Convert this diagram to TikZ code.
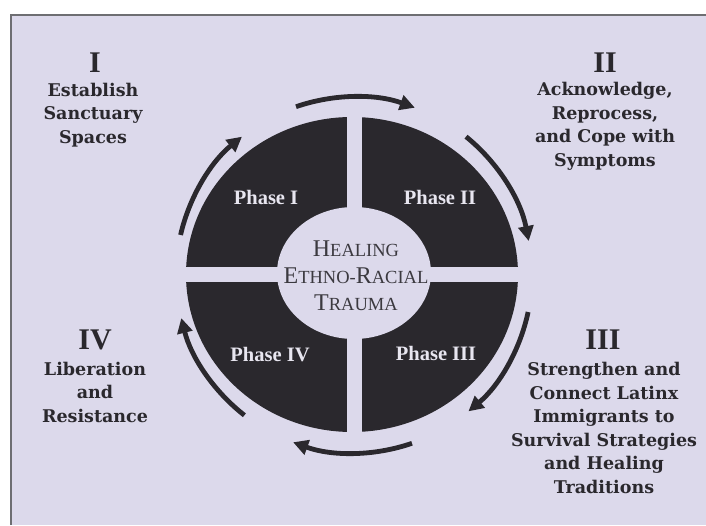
\documentclass[tikz,border=0pt]{standalone}
\usepackage{fontspec}
\setmainfont{Liberation Serif}
\newfontfamily\goalfont{DejaVu Serif}
\usetikzlibrary{arrows.meta}

\definecolor{lavender}{HTML}{DCD9EB}
\definecolor{ink}{HTML}{2A282D}
\definecolor{framegray}{HTML}{6E6E72}
\definecolor{midgray}{HTML}{3B393F}
\definecolor{pale}{HTML}{E8E6F0}

\newcommand{\capsmall}[2]{{\fontsize{24}{27}\selectfont #1}{\fontsize{18.5}{27}\selectfont #2}}

\begin{document}
\begin{tikzpicture}[x=1pt,y=1pt]

	\tikzstyle{phase} = [text=pale,font=\fontsize{20.5}{24}\selectfont\bfseries]
	\tikzstyle{numeral} = [text=ink,font=\fontsize{30}{30}\selectfont\bfseries]
	\tikzstyle{goal} = [text=ink,align=center,font=\goalfont\fontsize{17.5}{23.5}\selectfont\bfseries]
	\tikzstyle{cyclearrow} = [draw=ink,line width=4.8pt,-{Triangle[length=15pt,width=15pt]}]

	\useasboundingbox (0,0) rectangle (706,525);
	\fill[lavender] (11,0) rectangle (706,510);
	\draw[framegray,line width=1.5pt] (11,0) -- (11,510) -- (706,510);

	% ring
	\coordinate (c) at (354,250);
	\fill[ink] (352,250.5) ellipse [x radius=166, y radius=157.5];
	\fill[lavender] (354,252) ellipse [x radius=77, y radius=66];
	\fill[lavender] (347,80) rectangle (362,420);
	\fill[lavender] (170,243) rectangle (540,258);

	\node[phase] (p1) at (266,328) {Phase I};
	\node[phase] (p2) at (440,328) {Phase II};
	\node[phase] (p3) at (436,172) {Phase III};
	\node[phase] (p4) at (270,170) {Phase IV};

	\node[text=midgray,align=center,font=\fontsize{24}{27}\selectfont] (h) at (356,249)
		{\capsmall{H}{EALING}\\\capsmall{E}{THNO-}\capsmall{R}{ACIAL}\\\capsmall{T}{RAUMA}};

	% arrows round the ring
	\draw[cyclearrow] (c) ++(167:178) arc[start angle=167,end angle=129,radius=178];
	\draw[cyclearrow] (c) ++(109:178) arc[start angle=109,end angle=70,radius=178];
	\draw[cyclearrow] (c) ++(51:178) arc[start angle=51,end angle=11,radius=178];
	\draw[cyclearrow] (c) ++(-12:178) arc[start angle=-12,end angle=-50,radius=178];
	\draw[cyclearrow] (c) ++(-71:178) arc[start angle=-71,end angle=-110,radius=178];
	\draw[cyclearrow] (c) ++(-128:178) arc[start angle=-128,end angle=-166,radius=178];

	% the four steps
	\node[numeral] (n1) at (95,462) {I};
	\node[goal] (g1) at (93,410) {Establish\\Sanctuary\\Spaces};
	\node[numeral] (n2) at (605,462) {II};
	\node[goal] (g2) at (605,398.5) {Acknowledge,\\Reprocess,\\and Cope with\\Symptoms};
	\node[numeral] (n3) at (603,185) {III};
	\node[goal] (g3) at (604,97) {Strengthen and\\Connect Latinx\\Immigrants to\\Survival Strategies\\and Healing\\Traditions};
	\node[numeral] (n4) at (95,185) {IV};
	\node[goal] (g4) at (95,133) {Liberation\\and\\Resistance};

\end{tikzpicture}
\end{document}
